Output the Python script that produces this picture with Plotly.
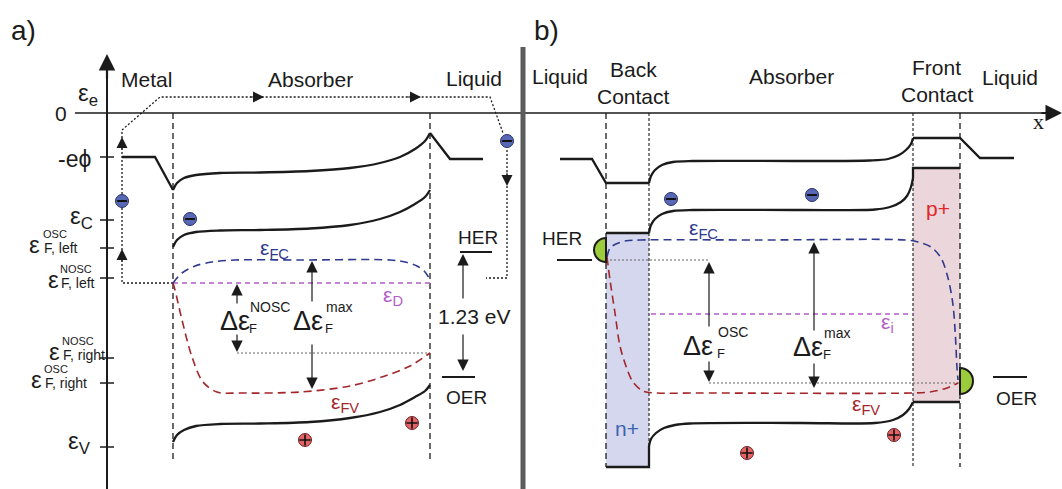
import plotly.graph_objects as go

W, H = 1062, 489
FONT = "Liberation Sans, Arial, sans-serif"
BLACK = "#1b1b1b"
BLUE = "#2f3a8e"
RED = "#a3262b"
PURPLE = "#b45cc6"
GRAY = "#555555"

# ---------------- Panel a) : metal / absorber / liquid ----------------
A_PHI_METAL_X = [122, 155, 173]
A_PHI_METAL_Y = [157, 157, 190]
A_PHI_ABS_X = [173, 177, 184, 196, 220, 260, 310, 350, 380, 400, 415, 425, 430]
A_PHI_ABS_Y = [190, 183, 178, 175, 173, 172.5, 171, 168, 163, 157, 149, 141, 133]
A_PHI_LIQ_X = [430, 450, 483]
A_PHI_LIQ_Y = [133, 159, 159]

A_EC_X = [173, 177, 184, 196, 220, 260, 310, 350, 380, 400, 415, 425, 430]
A_EC_Y = [247, 240, 235, 232, 230.5, 230, 228.5, 225, 219, 212, 204, 197, 190]

A_EV_X = [173, 177, 184, 196, 220, 260, 310, 350, 380, 400, 415, 425, 430]
A_EV_Y = [442, 435, 430, 426, 424, 423.5, 422, 418, 412, 405, 397, 391, 385]

A_EFC_X = [173, 182, 195, 212, 235, 300, 390, 405, 417, 425, 429]
A_EFC_Y = [283, 273, 266, 262, 260, 260, 260, 262, 266, 272, 278]

A_ED_X = [173, 430]
A_ED_Y = [283, 283]

A_EFV_X = [173, 175, 182, 192, 203, 217, 240, 300, 350, 385, 410, 430]
A_EFV_Y = [283, 290, 320, 357, 382, 392, 393, 392, 386, 376, 366, 353]

A_VLINES_X = [173, 430]

# dotted electron path in panel a
A_PATH_X = [173, 122, 122, 160, 490, 503]
A_PATH_Y = [283, 283, 130, 97, 97, 133]
A_PATH2_X = [507, 507, 486]
A_PATH2_Y = [150, 278, 278]
A_GUIDE_X = [237, 430]
A_GUIDE_Y = [353, 353]

# ---------------- Panel b) : liquid / back contact / absorber / front contact / liquid ----------------
B_PHI_X = [560, 592, 606, 649]
B_PHI_Y = [159, 159, 183, 183]
B_PHI_ABS_X = [649, 651, 655, 662, 673, 693, 800, 870, 888, 899, 906, 911, 913]
B_PHI_ABS_Y = [183, 176, 170, 165, 162, 161, 161, 160.5, 159, 155, 150, 144, 138]
B_PHI_FC_X = [913, 960, 980, 1014]
B_PHI_FC_Y = [138, 138, 158, 158]

B_EC_BC_X = [606, 649]
B_EC_BC_Y = [233, 233]
B_EC_ABS_X = [649, 651, 655, 662, 673, 693, 800, 875, 890, 901, 907, 911, 913]
B_EC_ABS_Y = [233, 225, 219, 214, 211, 210, 210, 209.5, 207, 202, 196, 187, 178]
B_EC_FC_X = [913, 913, 960]
B_EC_FC_Y = [178, 168, 168]

B_EV_BC_X = [606, 649, 649]
B_EV_BC_Y = [467, 467, 446]
B_EV_ABS_X = [649, 651, 656, 664, 675, 690, 800, 875, 893, 903, 909, 913]
B_EV_ABS_Y = [446, 439, 433, 428, 425, 423.5, 423, 423, 420, 415, 409, 402]
B_EV_FC_X = [913, 960]
B_EV_FC_Y = [402, 402]

B_EFC_X = [607, 610, 616, 625, 640, 760, 905, 918, 931, 941, 948, 953, 955.5, 957, 958]
B_EFC_Y = [257, 248, 244, 241, 240, 240, 240, 242, 247, 258, 278, 305, 338, 368, 380]

B_EFV_X = [607, 610, 615, 620, 627, 633, 643, 656, 700, 913, 930, 947, 958]
B_EFV_Y = [257, 280, 313, 346, 369, 382, 391, 393, 393, 393, 392, 388, 383]

B_EI_X = [651, 913]
B_EI_Y = [314, 314]

B_GUIDE1_X = [606, 709]
B_GUIDE1_Y = [260, 260]
B_GUIDE2_X = [709, 960]
B_GUIDE2_Y = [383, 383]

B_DASHED_X = [606, 960]
B_DOTTED_X = [649, 913]

# charge carriers
ELECTRON_X = [122, 190, 507, 671, 812]
ELECTRON_Y = [201, 219, 141, 199, 195]
HOLE_X = [305, 412, 747, 894]
HOLE_Y = [440, 423, 453, 435]

# tick levels on the energy axis of panel a
TICK_Y = [157, 220, 248, 278, 358, 383, 447]

fig = go.Figure()


def curve(xs, ys, color=BLACK, width=2.3, dash="solid", spline=True, smoothing=0.9):
    fig.add_trace(go.Scatter(
        x=xs, y=ys, mode="lines",
        line=dict(color=color, width=width, dash=dash,
                  shape="spline" if spline else "linear", smoothing=smoothing),
        hoverinfo="skip", showlegend=False))


def txt(x, y, s, size=20, color=BLACK, xanchor="center", yanchor="middle", family=FONT):
    fig.add_annotation(x=x, y=y, text=s, showarrow=False, xanchor=xanchor, yanchor=yanchor,
                       font=dict(family=family, size=size, color=color))


def arrow(x, y, ax, ay, width=1.2, size=1.9, color=BLACK):
    fig.add_annotation(x=x, y=y, ax=ax, ay=ay, xref="x", yref="y", axref="x", ayref="y",
                       text="", showarrow=True, arrowhead=2, arrowsize=size,
                       arrowwidth=width, arrowcolor=color, standoff=0, startstandoff=0)


# shaded contact layers
fig.add_shape(type="rect", x0=606, x1=649, y0=233, y1=467, fillcolor="#d4d7ed",
              line=dict(width=0), layer="below")
fig.add_shape(type="rect", x0=913, x1=960, y0=168, y1=402, fillcolor="#ebd6db",
              line=dict(width=0), layer="below")

# axes
curve([75, 1045], [113, 113], width=1.6, spline=False)
arrow(1062, 113, 1040, 113, width=2.2, size=1.5)
curve([107, 107], [70, 489], width=2, spline=False)
arrow(107, 54, 107, 80, width=2.2, size=1.5)
tx, ty = [], []
for t in TICK_Y:
    tx += [100, 114, None]
    ty += [t, t, None]
curve(tx, ty, width=1.5, spline=False)

# panel divider
curve([523, 523], [47, 489], color="#5c5c5c", width=5, spline=False)

# vertical interface lines
for xv in A_VLINES_X:
    curve([xv, xv], [113, 462], width=1.3, dash="6px,4px", spline=False)
for xv in B_DASHED_X:
    curve([xv, xv], [113, 467], width=1.3, dash="6px,4px", spline=False)
for xv in B_DOTTED_X:
    curve([xv, xv], [113, 467], width=1.1, dash="3px,2px", spline=False)

# guide / path dotted lines
curve(A_PATH_X, A_PATH_Y, width=1.3, dash="2px,2px", spline=False)
curve(A_PATH2_X, A_PATH2_Y, width=1.3, dash="2px,2px", spline=False)
curve(A_GUIDE_X, A_GUIDE_Y, color="#666666", width=1.1, dash="2px,2px", spline=False)
curve(B_GUIDE1_X, B_GUIDE1_Y, color="#666666", width=1.1, dash="2px,2px", spline=False)
curve(B_GUIDE2_X, B_GUIDE2_Y, color="#666666", width=1.1, dash="2px,2px", spline=False)

# quasi Fermi levels
curve(A_ED_X, A_ED_Y, color=PURPLE, width=1.5, dash="5px,4px", spline=False)
curve(A_EFC_X, A_EFC_Y, color=BLUE, width=1.6, dash="8px,5px")
curve(A_EFV_X, A_EFV_Y, color=RED, width=1.6, dash="8px,5px")
curve(B_EI_X, B_EI_Y, color=PURPLE, width=1.5, dash="5px,4px", spline=False)
curve(B_EFC_X, B_EFC_Y, color=BLUE, width=1.6, dash="8px,5px")
curve(B_EFV_X, B_EFV_Y, color=RED, width=1.6, dash="8px,5px")

# band edges
curve(A_PHI_METAL_X, A_PHI_METAL_Y, spline=False)
curve(A_PHI_ABS_X, A_PHI_ABS_Y)
curve(A_PHI_LIQ_X, A_PHI_LIQ_Y, spline=False)
curve(A_EC_X, A_EC_Y)
curve(A_EV_X, A_EV_Y)
curve(B_PHI_X, B_PHI_Y, spline=False)
curve(B_PHI_ABS_X, B_PHI_ABS_Y)
curve(B_PHI_FC_X, B_PHI_FC_Y, spline=False)
curve(B_EC_BC_X, B_EC_BC_Y, spline=False)
curve(B_EC_ABS_X, B_EC_ABS_Y)
curve(B_EC_FC_X, B_EC_FC_Y, spline=False)
curve(B_EV_BC_X, B_EV_BC_Y, spline=False)
curve(B_EV_ABS_X, B_EV_ABS_Y)
curve(B_EV_FC_X, B_EV_FC_Y, spline=False)

# redox levels
curve([460, 492], [252, 252], width=2, spline=False)
curve([442, 475], [377, 377], width=2, spline=False)
curve([557, 592], [260, 260], width=2, spline=False)
curve([993, 1027], [377, 377], width=2, spline=False)

# catalyst half-discs
K = 0.5523


def half_disc(cx, cy, r, side):
    s = -1 if side == "left" else 1
    p = (f"M {cx},{cy - r} C {cx + s * K * r},{cy - r} {cx + s * r},{cy - K * r} {cx + s * r},{cy} "
         f"C {cx + s * r},{cy + K * r} {cx + s * K * r},{cy + r} {cx},{cy + r} Z")
    fig.add_shape(type="path", path=p, fillcolor="#9ccb3b", line=dict(color=BLACK, width=2))


half_disc(606, 250, 12, "left")
half_disc(960, 381, 13, "right")

# charge carriers
fig.add_trace(go.Scatter(x=ELECTRON_X, y=ELECTRON_Y, mode="markers",
                         marker=dict(symbol="circle", size=13, color="#5868b4",
                                     line=dict(color="#26306a", width=1)),
                         hoverinfo="skip", showlegend=False))
fig.add_trace(go.Scatter(x=ELECTRON_X, y=ELECTRON_Y, mode="markers",
                         marker=dict(symbol="line-ew", size=7,
                                     line=dict(color="#111111", width=2)),
                         hoverinfo="skip", showlegend=False))
fig.add_trace(go.Scatter(x=HOLE_X, y=HOLE_Y, mode="markers",
                         marker=dict(symbol="circle", size=13, color="#e46466",
                                     line=dict(color="#6b1f22", width=1)),
                         hoverinfo="skip", showlegend=False))
fig.add_trace(go.Scatter(x=HOLE_X, y=HOLE_Y, mode="markers",
                         marker=dict(symbol="cross-thin", size=8,
                                     line=dict(color="#111111", width=1.6)),
                         hoverinfo="skip", showlegend=False))

# arrows on dotted path
arrow(122, 137, 122, 151, width=1, size=2.2)
arrow(122, 249, 122, 263, width=1, size=2.2)
arrow(264, 97, 249, 97, width=1, size=2.2)
arrow(421, 97, 406, 97, width=1, size=2.2)
arrow(507, 186, 507, 171, width=1, size=2.2)

# Delta arrows
arrow(237, 284, 237, 305)
arrow(237, 352, 237, 333)
arrow(312, 261, 312, 303)
arrow(312, 389, 312, 343)
arrow(463, 254, 463, 300)
arrow(463, 371, 463, 333)
arrow(709, 262, 709, 328)
arrow(709, 382, 709, 360)
arrow(814, 242, 814, 332)
arrow(814, 388, 814, 362)

# ---------------- texts ----------------
txt(23, 30, "a)", size=28)
txt(546, 30, "b)", size=28)

txt(146, 79, "Metal", size=21)
txt(310, 79, "Absorber", size=21)
txt(474, 78, "Liquid", size=21)
txt(560, 76, "Liquid", size=21)
txt(633, 69, "Back", size=21)
txt(633, 96, "Contact", size=21)
txt(791, 76, "Absorber", size=21)
txt(936, 67, "Front", size=21)
txt(937, 94, "Contact", size=21)
txt(1010, 77, "Liquid", size=21)
txt(1038, 121, "x", size=22, family="Liberation Serif, Times New Roman, serif")

# energy axis labels
txt(100, 94, "ε<sub>e</sub>", size=24, xanchor="right")
txt(69, 113, "0", size=21, xanchor="right")
txt(93, 159, "-eϕ", size=23, xanchor="right")
txt(95, 217, "ε<sub>C</sub>", size=24, xanchor="right")
txt(93, 442, "ε<sub>V</sub>", size=24, xanchor="right")


def eps_label(xe, ye, sup, sub, xs):
    txt(xe, ye, "ε", size=24, xanchor="right")
    txt(xs, ye - 10, sup, size=11, xanchor="left")
    txt(xs + 1, ye + 4, sub, size=14, xanchor="left")


eps_label(42, 244, "OSC", "F, left", 41)
eps_label(61, 279, "NOSC", "F, left", 58)
eps_label(62, 351, "NOSC", "F, right", 60)
eps_label(44, 379, "OSC", "F, right", 42)

# Delta labels


def delta_label(x, y, sup, xs):
    txt(x, y, "Δε", size=27, xanchor="right")
    txt(xs, y - 14, sup, size=14, xanchor="left")
    txt(xs - 1, y + 7, "F", size=13, xanchor="left")


delta_label(252, 321, "NOSC", 248)
delta_label(325, 321, "max", 324)
delta_label(715, 346, "OSC", 716)
delta_label(825, 347, "max", 822)

txt(474, 316, "1.23 eV", size=21)
txt(478, 237, "HER", size=19)
txt(466, 397, "OER", size=19)
txt(562, 238, "HER", size=19)
txt(1016, 398, "OER", size=19)

txt(274, 249, "ε<sub>FC</sub>", size=21, color=BLUE)
txt(393, 296, "ε<sub>D</sub>", size=21, color=PURPLE)
txt(345, 403, "ε<sub>FV</sub>", size=21, color=RED)
txt(703, 229, "ε<sub>FC</sub>", size=21, color=BLUE)
txt(887, 323, "ε<sub>i</sub>", size=21, color=PURPLE)
txt(866, 405, "ε<sub>FV</sub>", size=21, color=RED)

txt(627, 428, "n+", size=21, color="#3e63b2")
txt(938, 208, "p+", size=21, color="#e0282a")

fig.update_layout(
    width=W, height=H,
    margin=dict(l=0, r=0, t=0, b=0),
    paper_bgcolor="white", plot_bgcolor="white",
    xaxis=dict(range=[0, W], visible=False, fixedrange=True),
    yaxis=dict(range=[H, 0], visible=False, fixedrange=True),
    showlegend=False,
)

fig.write_html("out.html", config={"displayModeBar": False},
               post_script="document.body.style.margin='0';")
